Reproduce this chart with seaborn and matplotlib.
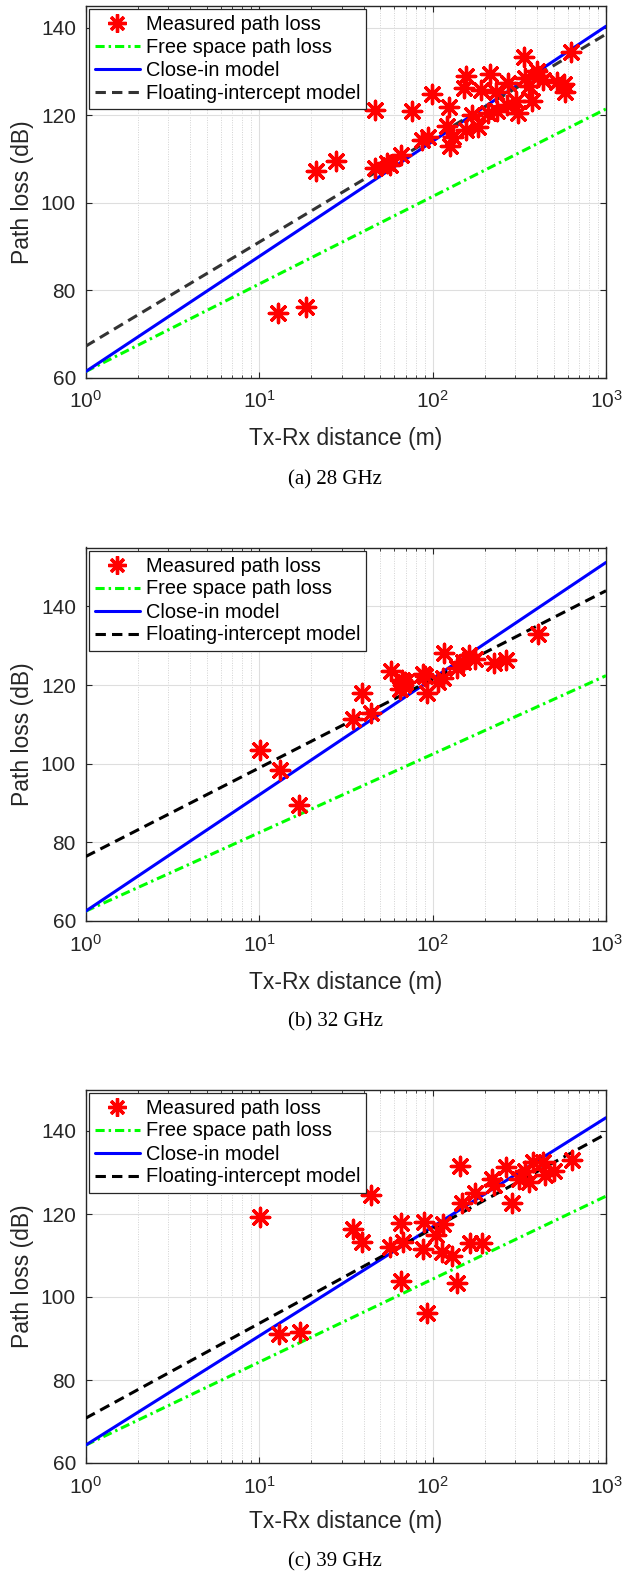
import numpy as np
import pandas as pd
import matplotlib
matplotlib.use("Agg")
import matplotlib.pyplot as plt
from matplotlib.lines import Line2D
from matplotlib.ticker import LogLocator, FixedLocator, NullFormatter
import seaborn as sns

# ---------------- data ----------------
d_28 = [12.8, 18.6, 21.4, 27.6, 46.6, 46.6, 54.4, 57.0, 65.6, 75.9, 86.6, 94.6, 98.9,
        120.7, 124.9, 126.2, 130.8, 152.5, 156.0, 156.0, 168.3, 183.7, 189.7, 209.8,
        214.6, 232.5, 234.6, 267.8, 271.5, 302.0, 312.4, 337.5, 341.7, 361.6, 376.6,
        399.0, 407.6, 435.5, 520.0, 573.0, 581.0, 627.0]
pl_28 = [74.7, 76.1, 107.3, 109.5, 121.1, 107.9, 109.1, 108.6, 111.0, 121.0, 114.4, 115.1, 124.9,
         117.6, 121.9, 113.0, 115.1, 126.2, 129.0, 116.7, 120.1, 117.3, 125.8, 120.5,
         129.3, 125.3, 120.9, 122.4, 127.4, 123.2, 120.5, 133.2, 128.5, 126.6, 123.2,
         130.0, 128.9, 128.1, 127.5, 127.0, 125.3, 134.5]

d_32 = [10.1, 13.2, 17.0, 34.7, 39.4, 44.2, 57.6, 65.0, 66.4, 67.9, 69.4, 87.8, 90.5,
        93.3, 108.1, 115.5, 117.0, 139.0, 150.6, 163.0, 175.9, 226.3, 265.6, 407.0]
pl_32 = [103.6, 98.4, 89.5, 111.5, 117.9, 112.8, 123.5, 119.1, 121.4, 120.0, 120.8, 122.9, 122.3,
         118.0, 120.8, 121.7, 128.2, 124.3, 125.9, 127.6, 126.6, 125.5, 126.3, 132.9]

d_39 = [10.1, 13.1, 17.1, 34.7, 39.1, 44.2, 56.9, 65.8, 65.8, 67.9, 87.8, 89.3, 93.4,
        104.7, 113.0, 115.4, 129.1, 138.0, 144.2, 147.4, 164.5, 175.9, 192.2, 219.5,
        226.3, 265.6, 286.2, 316.7, 341.5, 361.6, 381.3, 435.5, 445.6, 502.0, 635.0]
pl_39 = [119.2, 91.2, 91.6, 116.3, 113.3, 124.6, 112.0, 117.8, 103.9, 113.3, 111.5, 118.1, 96.1,
         114.9, 110.9, 117.6, 109.9, 103.4, 131.6, 122.7, 113.1, 125.1, 113.1, 128.4,
         127.0, 131.4, 122.7, 128.4, 130.4, 127.8, 132.6, 132.6, 129.4, 130.4, 133.0]

# model lines: end points at d = 1 m and d = 1000 m
model_d = [1, 1000]
fspl_28 = [61.4, 121.4]
ci_28 = [61.4, 140.3]
fi_28 = [67.2, 138.5]
fspl_32 = [62.5, 122.4]
ci_32 = [62.5, 151.2]
fi_32 = [76.4, 144.0]
fspl_39 = [64.3, 124.3]
ci_39 = [64.3, 143.2]
fi_39 = [70.8, 139.3]

y_ticks = [60, 80, 100, 120, 140]
x_ticks = [1, 10, 100, 1000]
legend_labels = ["Measured path loss", "Free space path loss", "Close-in model",
                 "Floating-intercept model"]
captions = ["(a) 28 GHz", "(b) 32 GHz", "(c) 39 GHz"]

# ---------------- style ----------------
sns.set_theme(style="white")
plt.rcParams["font.family"] = ["Liberation Sans", "DejaVu Sans"]
plt.rcParams["mathtext.fontset"] = "custom"
plt.rcParams["mathtext.rm"] = "Liberation Sans"
plt.rcParams["mathtext.it"] = "Liberation Sans:italic"
plt.rcParams["mathtext.bf"] = "Liberation Sans:bold"

AX_COL = "#262626"
W, H = 625, 1572
fig = plt.figure(figsize=(W / 100, H / 100), dpi=100)
fig.patch.set_facecolor("white")

left_px, right_px = 85.7, 606.0
panels = [
    dict(top=5.7, bottom=377.7, ylim=(60, 145), d=d_28, pl=pl_28, fspl=fspl_28, ci=ci_28,
         fi=fi_28, fi_col="#333333", xl=439.0, cap=479.5),
    dict(top=547.5, bottom=921.0, ylim=(60, 155), d=d_32, pl=pl_32, fspl=fspl_32, ci=ci_32,
         fi=fi_32, fi_col="#000000", xl=982.0, cap=1022.0),
    dict(top=1089.5, bottom=1463.0, ylim=(60, 150), d=d_39, pl=pl_39, fspl=fspl_39, ci=ci_39,
         fi=fi_39, fi_col="#000000", xl=1521.7, cap=1561.7),
]

STAR = (8, 2, 0)
LW = 2.2
DASHDOT = (3.0, 1.3, 0.8, 1.3)
DASH = (3.4, 2.0)

for i, p in enumerate(panels):
    hpx = p["bottom"] - p["top"]
    ax = fig.add_axes([left_px / W, 1 - p["bottom"] / H, (right_px - left_px) / W, hpx / H])
    ax.set_xscale("log")

    mdf = pd.DataFrame({"d": model_d, "fspl": p["fspl"], "ci": p["ci"], "fi": p["fi"]})
    sdf = pd.DataFrame({"d": p["d"], "pl": p["pl"]})

    sns.lineplot(data=mdf, x="d", y="fspl", ax=ax, color="#00ff00", lw=LW, zorder=3)
    ax.lines[-1].set_dashes(DASHDOT)
    sns.lineplot(data=mdf, x="d", y="ci", ax=ax, color="#0000ff", lw=LW, zorder=3)
    sns.lineplot(data=mdf, x="d", y="fi", ax=ax, color=p["fi_col"], lw=LW, zorder=3)
    ax.lines[-1].set_dashes(DASH)
    sns.scatterplot(data=sdf, x="d", y="pl", ax=ax, marker=STAR, s=175,
                    color="#ff0000", edgecolor="#ff0000", linewidth=2.4, zorder=4)

    ax.set_xlim(1, 1000)
    ax.set_ylim(*p["ylim"])
    ax.xaxis.set_major_locator(FixedLocator(x_ticks))
    ax.xaxis.set_minor_locator(LogLocator(base=10, subs=np.arange(2, 10), numticks=20))
    ax.xaxis.set_minor_formatter(NullFormatter())
    ax.set_xticks(x_ticks)
    ax.set_xticklabels([r"$\mathregular{10^{%d}}$" % int(np.log10(v)) for v in x_ticks])
    ax.set_yticks(y_ticks)
    ax.set_yticklabels([str(v) for v in y_ticks])

    ax.grid(True, which="major", color="#dedede", lw=0.8, ls="-")
    ax.grid(True, which="minor", axis="x", color="#d2d2d2", lw=0.7, ls=(0, (1, 1.5)))
    ax.set_axisbelow(True)

    for sp in ax.spines.values():
        sp.set_color(AX_COL)
        sp.set_linewidth(1.0)
        sp.set_visible(True)
    ax.tick_params(which="both", direction="in", top=True, right=True, bottom=True,
                   left=True, colors=AX_COL, labelcolor=AX_COL)
    ax.tick_params(which="major", length=4.5, width=0.8, labelsize=15)
    ax.tick_params(axis="x", which="major", pad=9)
    ax.tick_params(axis="y", which="major", pad=7)
    ax.tick_params(which="minor", length=2.5, width=0.6)

    ax.set_ylabel("Path loss (dB)", fontsize=16.5, color=AX_COL, labelpad=5)
    ax.set_xlabel("Tx-Rx distance (m)", fontsize=16.5, color=AX_COL)
    ax.xaxis.label.set_va("center")
    ax.xaxis.set_label_coords(0.5, -(p["xl"] - p["bottom"]) / hpx)

    handles = [
        Line2D([], [], ls="none", marker=STAR, color="#ff0000", markersize=13, mew=2.4),
        Line2D([], [], color="#00ff00", lw=LW, dashes=DASHDOT),
        Line2D([], [], color="#0000ff", lw=LW),
        Line2D([], [], color=p["fi_col"], lw=LW, dashes=DASH),
    ]
    leg = ax.legend(handles, legend_labels, loc="upper left", fontsize=14.4,
                    frameon=True, fancybox=False, edgecolor=AX_COL, framealpha=1,
                    borderaxespad=0.15, handlelength=2.25, handletextpad=0.3,
                    labelspacing=0.2, borderpad=0.3)
    leg.get_frame().set_linewidth(0.9)
    for t in leg.get_texts():
        t.set_color("#000000")

    fig.text(335 / W, 1 - p["cap"] / H, captions[i], ha="center", va="center",
             fontsize=15, family=["Liberation Serif", "DejaVu Serif"], color="#000000")

fig.savefig("out.png", dpi=100, facecolor="white")
